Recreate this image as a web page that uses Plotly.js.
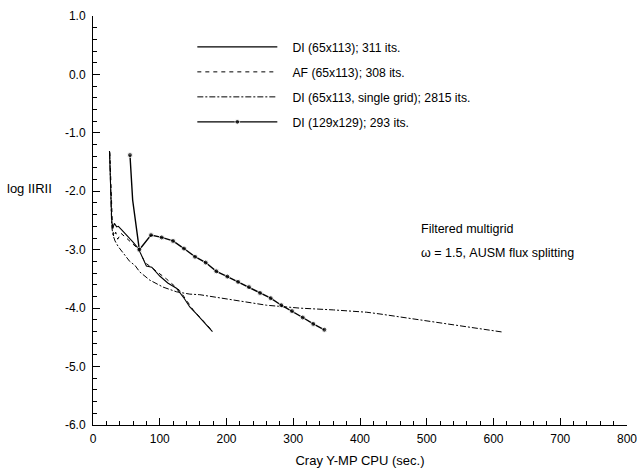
<!DOCTYPE html>
<html>
<head>
<meta charset="utf-8">
<script src="https://cdn.plot.ly/plotly-3.0.1.min.js"></script>
<style>html,body{margin:0;padding:0;background:#fff;}#chart{width:637px;height:469px;}</style>
</head>
<body>
<div id="chart"></div>
<script>
// DI (65x113); 311 its.
const di65X = [24.7, 26.5, 28, 29.5, 32, 35.5, 38, 43, 53, 60, 68, 74, 80, 88, 100, 112, 125, 137, 145, 155, 165, 172, 179];
const di65Y = [-1.31, -2.0, -2.49, -2.64, -2.55, -2.61, -2.6, -2.66, -2.78, -2.87, -2.98, -3.14, -3.28, -3.30, -3.45, -3.57, -3.66, -3.84, -3.98, -4.10, -4.22, -4.32, -4.40];
// AF (65x113); 308 its.
const afX = [25.2, 27, 29, 31, 34, 37, 42, 50, 60, 68, 78, 90, 110, 130, 150, 170, 178];
const afY = [-1.33, -2.1, -2.55, -2.78, -2.7, -2.82, -2.72, -2.8, -2.9, -2.99, -3.22, -3.33, -3.5, -3.7, -4.03, -4.28, -4.38];
// DI (65x113, single grid); 2815 its.
const sgX = [25, 26.5, 28, 30, 33, 38, 45, 55, 63, 70, 85, 95, 105, 125, 145, 160, 185, 210, 260, 310, 360, 410, 430, 460, 480, 530, 580, 614];
const sgY = [-1.35, -2.2, -2.6, -2.75, -2.85, -2.95, -3.05, -3.2, -3.27, -3.38, -3.52, -3.58, -3.64, -3.72, -3.76, -3.77, -3.81, -3.86, -3.95, -4.0, -4.03, -4.07, -4.1, -4.15, -4.18, -4.26, -4.35, -4.41];
// DI (129x129); 293 its.
const di129X = [55.4, 59.4, 69.4, 86.9, 102.9, 119.9, 136.3, 152.8, 168.8, 184.8, 201.3, 217.3, 233.7, 250.2, 266.2, 282.1, 298.1, 314.2, 330, 346.6];
const di129Y = [-1.38, -2.15, -3.0, -2.75, -2.79, -2.85, -2.98, -3.12, -3.22, -3.37, -3.46, -3.55, -3.64, -3.74, -3.83, -3.95, -4.05, -4.16, -4.27, -4.37];

const seriesNames = ["DI (65x113); 311 its.", "AF (65x113); 308 its.", "DI (65x113, single grid); 2815 its.", "DI (129x129); 293 its."];
const xTickVals = [0, 100, 200, 300, 400, 500, 600, 700, 800];
const xTickText = ["0", "100", "200", "300", "400", "500", "600", "700", "800"];
const yTickVals = [1, 0, -1, -2, -3, -4, -5, -6];
const yTickText = ["1.0", "0.0", "-1.0", "-2.0", "-3.0", "-4.0", "-5.0", "-6.0"];

const font = "Liberation Sans, Arial, Helvetica, sans-serif";
const markerSizes = di129X.map((v, i) => (i === 1 ? 0 : 5));
const pad = "\u00a0\u00a0\u00a0";

const traces = [
  {x: di65X, y: di65Y, name: pad + seriesNames[0], mode: "lines", legendgroup: "a",
   line: {color: "#000", width: 1.1}},
  {x: afX, y: afY, name: pad + seriesNames[1], mode: "lines", legendgroup: "b",
   line: {color: "#000", width: 1, dash: "4px,4px"}},
  {x: sgX, y: sgY, name: pad + seriesNames[2], mode: "lines", legendgroup: "c",
   line: {color: "#000", width: 1, dash: "6px,2px,2px,2px"}},
  {x: di129X, y: di129Y, name: pad + seriesNames[3], mode: "lines+markers", legendgroup: "d",
   line: {color: "#000", width: 1.4}, marker: {color: "#000", size: markerSizes}}
];

const layout = {
  width: 637, height: 469,
  margin: {l: 93, r: 10, t: 16, b: 44},
  paper_bgcolor: "#fff", plot_bgcolor: "#fff",
  font: {family: font, size: 12, color: "#000"},
  showlegend: true,
  legend: {x: 0.186, y: 0.96, xanchor: "left", yanchor: "top", itemwidth: 80,
           tracegroupgap: 6, font: {family: font, size: 12.2, color: "#000"},
           bgcolor: "rgba(0,0,0,0)", itemclick: false},
  xaxis: {range: [0, 800], tickmode: "array", tickvals: xTickVals, ticktext: xTickText,
          ticks: "inside", ticklen: 7, tickcolor: "#000", tickwidth: 1,
          minor: {dtick: 20, ticks: "inside", ticklen: 4, tickcolor: "#000"},
          showline: true, linecolor: "#000", linewidth: 1, showgrid: false, zeroline: false,
          tickfont: {family: font, size: 12}, ticklabeloverflow: "allow", ticklabelstandoff: 3,
          title: {text: "Cray Y-MP CPU (sec.)", font: {family: font, size: 13}, standoff: 10}},
  yaxis: {range: [-6, 1], tickmode: "array", tickvals: yTickVals, ticktext: yTickText,
          ticks: "inside", ticklen: 7, tickcolor: "#000", tickwidth: 1,
          minor: {dtick: 0.2, ticks: "inside", ticklen: 4, tickcolor: "#000"},
          showline: true, linecolor: "#000", linewidth: 1, showgrid: false, zeroline: false,
          tickfont: {family: font, size: 12}, ticklabelstandoff: 4},
  annotations: [
    {text: "log IIRII", xref: "paper", yref: "y", x: -0.165, y: -1.95, xanchor: "left",
     showarrow: false, font: {family: font, size: 13}},
    {text: "Filtered multigrid", xref: "x", yref: "y", x: 488, y: -2.64, xanchor: "left",
     showarrow: false, font: {family: font, size: 12.5}},
    {text: "ω = 1.5, AUSM flux splitting", xref: "x", yref: "y", x: 488, y: -3.06, xanchor: "left",
     showarrow: false, font: {family: font, size: 12.5}}
  ]
};

Plotly.newPlot("chart", traces, layout, {displayModeBar: false, staticPlot: true});
</script>
</body>
</html>
